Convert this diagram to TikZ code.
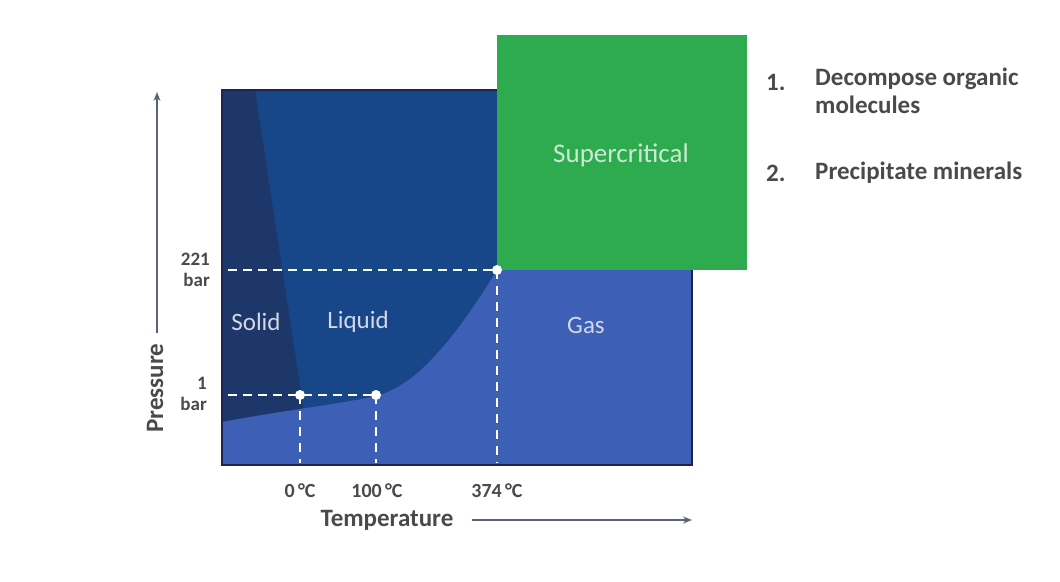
\documentclass[tikz,border=0pt]{standalone}
\usepackage{fontspec}
\setmainfont{Carlito}
\usepackage{tikz}
\usetikzlibrary{positioning,calc,arrows.meta}
\definecolor{deep}{HTML}{184789}
\definecolor{solidc}{HTML}{1E376B}
\definecolor{gasc}{HTML}{3E5FB6}
\definecolor{frame}{HTML}{1B2550}
\definecolor{green}{HTML}{2EAA4F}
\definecolor{ink}{HTML}{4A4A4A}
\definecolor{axis}{HTML}{5A6378}
\definecolor{pale}{HTML}{D3D8E4}
\newcommand{\Lx}{222}
\newcommand{\Rx}{692}
\newcommand{\Ty}{90}
\newcommand{\By}{465}
\newcommand{\Cx}{497}
\newcommand{\Cy}{270}

\begin{document}
\begin{tikzpicture}[x=1pt,y=-1pt, every node/.style={text=ink, inner sep=0pt}, >={Stealth[length=9pt,width=7pt]}]
\useasboundingbox (0,0) rectangle (1060,581);
% ---- PHASE REGIONS: liquid field, solid wedge, gas under the vapour curve
\fill[deep] (\Lx,\Ty) rectangle (\Rx,\By);
\fill[solidc] (\Lx,\Ty) -- (255,\Ty) -- (305,418) -- (\Lx,424) -- cycle;
\fill[gasc] (\Lx,422) .. controls (280,411) and (340,404) .. (376,396)
  .. controls (420,385) and (460,330) .. (\Cx,\Cy) -- (\Rx,\Cy) -- (\Rx,\By) -- (\Lx,\By) -- cycle;
\draw[frame, line width=2.5pt] (\Lx,\Ty) rectangle (\Rx,\By);
% ---- SUPERCRITICAL square on top of the chart corner
\fill[green] (\Cx,35) rectangle (747,\Cy);
\node[font=\fontsize{27}{30}\selectfont, text=green!25!white] (super) at (621,155) {Supercritical};
% ---- SPECIAL POINTS and dashed guide lines
\coordinate (melt) at (300,395);
\coordinate (boil) at (376,395);
\coordinate (crit) at (\Cx,\Cy);
\coordinate (lo) at (228,395);
\coordinate (hi) at (228,\Cy);
\draw[white, line width=2pt, dash pattern=on 9pt off 6pt] (hi) -- (crit);
\draw[white, line width=2pt, dash pattern=on 9pt off 6pt] (lo) -- (boil);
\foreach \p in {melt,boil,crit}
  \draw[white, line width=2pt, dash pattern=on 9pt off 7pt] (\p) -- (\p |- 0,463);
\foreach \p in {melt,boil,crit}
  \fill[white] (\p) circle (5pt);
% ---- REGION LABELS
\node[font=\fontsize{25}{28}\selectfont, text=pale] (solid) at (256,322) {Solid};
\node[font=\fontsize{25}{28}\selectfont, text=pale] (liquid) at (358,322) {Liquid};
\node[font=\fontsize{25}{28}\selectfont, text=pale] (gas) at (586,325) {Gas};
% ---- TICKS on both axes
\node[font=\bfseries\fontsize{19}{21}\selectfont, align=right, anchor=east] (p221) at (210,270) {221\\bar};
\node[font=\bfseries\fontsize{19}{21}\selectfont, align=right, anchor=east] (p1) at (207,394) {1\\bar};
\node[font=\bfseries\fontsize{20}{22}\selectfont] (t0) at (300,491) {0\,°C};
\node[font=\bfseries\fontsize{20}{22}\selectfont] (t100) at (377,491) {100\,°C};
\node[font=\bfseries\fontsize{20}{22}\selectfont] (t374) at (497,491) {374\,°C};
% ---- AXIS TITLES and arrows
\node[font=\bfseries\fontsize{25}{28}\selectfont] (temp) at (387,520) {Temperature};
\coordinate (tend) at (692,520);
\draw[axis, line width=1.4pt, ->] (temp.east) ++(18,0) -- (tend);
\node[font=\bfseries\fontsize{25}{28}\selectfont, rotate=90] (press) at (155,388) {Pressure};
\coordinate (pend) at (157,92);
\draw[axis, line width=1.4pt, ->] (press.east) ++(2,-10) -- (pend);
% ---- TREATMENT LIST
\node[font=\bfseries\fontsize{25}{28}\selectfont, anchor=west] (n1) at (766,82) {1.};
\node[font=\bfseries\fontsize{25}{28}\selectfont, anchor=north west, align=left] (i1) at (815,68) {Decompose organic\\molecules};
\node[font=\bfseries\fontsize{25}{28}\selectfont, anchor=west] (n2) at (766,173) {2.};
\node[font=\bfseries\fontsize{25}{28}\selectfont, anchor=west] (i2) at (815,173) {Precipitate minerals};
\end{tikzpicture}
\end{document}
